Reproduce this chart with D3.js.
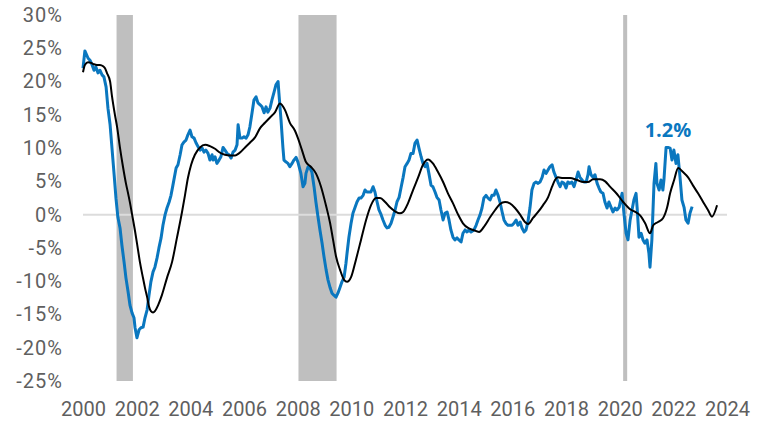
<!DOCTYPE html>
<html><head><meta charset="utf-8">
<script src="https://cdn.jsdelivr.net/npm/d3@7"></script>
<style>body{margin:0;background:#fff}svg{display:block}</style>
</head><body>
<svg id="c" width="765" height="426"></svg>
<script>
const yTicks = [-25,-20,-15,-10,-5,0,5,10,15,20,25,30];
const xTicks = [2000,2002,2004,2006,2008,2010,2012,2014,2016,2018,2020,2022,2024];
const recessionStart = [2001.25, 2008.03, 2020.13];
const recessionEnd   = [2001.86, 2009.45, 2020.28];

const blueYears = [2000.00,2000.07,2000.19,2000.26,2000.34,2000.41,2000.48,2000.56,2000.63,2000.71,2000.78,2000.86,2000.93,2001.01,2001.08,2001.16,2001.23,2001.30,2001.38,2001.45,2001.53,2001.60,2001.68,2001.75,2001.83,2001.90,2001.94,2002.01,2002.09,2002.16,2002.24,2002.31,2002.39,2002.46,2002.53,2002.61,2002.68,2002.76,2002.83,2002.91,2002.98,2003.06,2003.13,2003.21,2003.28,2003.35,2003.47,2003.54,2003.62,2003.69,2003.76,2003.84,2003.91,2003.99,2004.06,2004.14,2004.21,2004.29,2004.36,2004.44,2004.51,2004.58,2004.66,2004.73,2004.81,2004.85,2004.92,2004.99,2005.07,2005.14,2005.22,2005.29,2005.37,2005.44,2005.52,2005.59,2005.67,2005.74,2005.78,2005.85,2005.93,2006.00,2006.08,2006.15,2006.22,2006.30,2006.37,2006.45,2006.52,2006.60,2006.67,2006.75,2006.82,2006.89,2006.97,2007.04,2007.12,2007.19,2007.27,2007.30,2007.38,2007.45,2007.49,2007.57,2007.64,2007.71,2007.79,2007.86,2007.94,2008.01,2008.12,2008.20,2008.27,2008.31,2008.39,2008.46,2008.53,2008.61,2008.68,2008.76,2008.83,2008.91,2008.98,2009.06,2009.13,2009.21,2009.28,2009.35,2009.43,2009.50,2009.58,2009.65,2009.73,2009.80,2009.84,2009.91,2009.99,2010.06,2010.14,2010.21,2010.29,2010.36,2010.44,2010.51,2010.58,2010.66,2010.73,2010.81,2010.88,2010.96,2011.03,2011.11,2011.18,2011.26,2011.33,2011.40,2011.48,2011.55,2011.63,2011.70,2011.78,2011.85,2011.93,2012.00,2012.08,2012.15,2012.22,2012.30,2012.37,2012.45,2012.52,2012.60,2012.67,2012.75,2012.82,2012.89,2012.97,2013.04,2013.12,2013.19,2013.27,2013.34,2013.42,2013.49,2013.57,2013.64,2013.71,2013.79,2013.86,2013.94,2014.01,2014.09,2014.16,2014.24,2014.31,2014.39,2014.46,2014.57,2014.65,2014.72,2014.80,2014.87,2014.94,2015.02,2015.09,2015.17,2015.24,2015.32,2015.39,2015.47,2015.54,2015.62,2015.69,2015.76,2015.84,2015.91,2015.99,2016.06,2016.14,2016.21,2016.29,2016.36,2016.44,2016.51,2016.58,2016.66,2016.73,2016.81,2016.88,2016.96,2017.03,2017.11,2017.18,2017.26,2017.33,2017.40,2017.48,2017.55,2017.63,2017.70,2017.78,2017.85,2017.93,2018.00,2018.07,2018.15,2018.22,2018.30,2018.37,2018.45,2018.52,2018.60,2018.67,2018.75,2018.82,2018.86,2018.93,2019.01,2019.08,2019.16,2019.23,2019.30,2019.38,2019.45,2019.53,2019.60,2019.68,2019.75,2019.83,2019.90,2019.98,2020.09,2020.16,2020.24,2020.31,2020.39,2020.46,2020.53,2020.61,2020.65,2020.72,2020.80,2020.87,2020.94,2021.02,2021.09,2021.13,2021.20,2021.28,2021.35,2021.39,2021.47,2021.54,2021.61,2021.65,2021.73,2021.80,2021.88,2021.95,2022.02,2022.10,2022.17,2022.25,2022.32,2022.40,2022.47,2022.55,2022.62,2022.70];
const blueValues = [22.0,24.6,23.5,23.2,22.5,21.7,22.2,21.3,21.7,21.0,20.7,19.2,16.0,13.5,10.0,6.0,2.4,-0.4,-2.0,-4.6,-7.1,-9.5,-11.6,-13.6,-14.8,-15.5,-17.0,-18.5,-17.3,-17.0,-16.9,-15.5,-14.3,-12.1,-10.1,-8.6,-7.9,-6.5,-5.0,-3.5,-1.6,0.0,1.0,1.9,2.9,4.4,7.0,7.5,9.0,10.5,10.9,11.2,12.0,12.7,11.7,11.5,10.8,10.2,9.7,10.0,9.4,9.7,9.2,8.2,9.0,8.2,8.7,7.7,8.2,8.7,10.1,9.7,9.2,9.0,8.5,9.4,9.7,10.5,13.5,11.5,11.5,11.7,11.5,12.0,13.2,15.3,17.2,17.7,16.8,16.5,16.2,15.3,16.2,15.4,16.0,17.2,18.4,19.5,20.0,18.3,14.2,10.1,8.2,7.9,7.7,7.2,7.7,8.2,8.6,7.9,6.2,4.2,4.7,6.2,7.2,7.0,6.4,4.2,1.9,-0.4,-2.3,-4.3,-6.3,-8.3,-9.8,-11.0,-11.8,-12.1,-12.4,-11.8,-10.9,-10.1,-9.4,-7.3,-5.8,-3.4,-1.3,0.2,1.1,1.9,2.5,2.5,2.9,3.7,3.4,3.4,3.4,4.2,3.4,1.9,0.7,0.0,-0.8,-1.6,-2.0,-1.9,-1.3,-0.4,0.7,1.9,2.6,4.0,5.6,7.2,7.7,8.2,9.2,9.2,10.7,11.2,10.0,8.7,7.7,7.2,7.7,6.2,4.4,4.2,3.4,2.6,2.2,0.7,-0.8,0.2,0.4,-0.8,-2.3,-3.4,-3.8,-3.5,-3.8,-4.1,-2.8,-2.3,-2.6,-2.3,-2.6,-2.3,-1.6,-0.8,0.0,1.0,2.5,2.9,2.5,2.2,2.9,2.9,3.7,2.9,1.9,0.4,-0.8,-1.3,-1.6,-1.6,-1.6,-1.3,-0.8,-1.6,-1.1,-2.0,-2.6,-2.3,-1.1,1.1,3.7,4.7,4.9,4.7,4.9,5.6,6.7,6.2,6.7,7.2,7.5,6.4,5.6,4.9,4.2,4.9,4.7,4.0,4.9,4.7,4.9,4.2,5.2,6.4,5.6,5.2,4.9,4.9,6.0,7.2,6.0,5.6,6.0,4.7,4.0,3.4,3.2,1.9,1.0,1.9,1.1,0.4,1.0,0.7,1.1,3.2,0.2,-2.8,-3.8,-0.8,0.7,2.2,3.2,1.1,-3.4,-2.8,-3.8,-4.3,-3.8,-5.8,-7.9,-3.8,4.7,7.7,4.7,3.7,5.2,3.7,5.2,10.1,10.1,10.0,8.2,9.7,7.7,9.0,5.6,2.2,1.1,-0.8,-1.3,0.2,1.2];

const blackYears = [2000.00,2000.07,2000.19,2000.30,2000.41,2000.52,2000.63,2000.75,2000.82,2000.89,2001.01,2001.08,2001.19,2001.27,2001.38,2001.49,2001.60,2001.68,2001.75,2001.83,2001.94,2002.05,2002.12,2002.24,2002.31,2002.39,2002.46,2002.53,2002.61,2002.68,2002.80,2002.94,2003.13,2003.32,2003.50,2003.69,2003.80,2003.91,2004.03,2004.17,2004.36,2004.55,2004.73,2004.92,2005.11,2005.29,2005.48,2005.67,2005.81,2006.04,2006.22,2006.41,2006.60,2006.78,2006.97,2007.16,2007.34,2007.53,2007.71,2007.90,2008.01,2008.16,2008.31,2008.49,2008.68,2008.87,2009.06,2009.21,2009.32,2009.43,2009.58,2009.73,2009.84,2009.99,2010.17,2010.36,2010.55,2010.73,2010.92,2011.07,2011.26,2011.44,2011.63,2011.81,2011.93,2012.11,2012.30,2012.49,2012.67,2012.86,2013.04,2013.23,2013.42,2013.60,2013.79,2013.98,2014.16,2014.35,2014.54,2014.76,2014.98,2015.17,2015.36,2015.54,2015.73,2015.91,2016.10,2016.29,2016.47,2016.59,2016.77,2016.96,2017.14,2017.33,2017.48,2017.59,2017.70,2017.89,2018.15,2018.41,2018.64,2018.82,2019.01,2019.27,2019.46,2019.64,2019.90,2020.13,2020.39,2020.58,2020.76,2020.95,2021.13,2021.25,2021.43,2021.62,2021.77,2021.88,2022.03,2022.18,2022.36,2022.55,2022.73,2022.92,2023.11,2023.29,2023.44,2023.63];
const blackValues = [21.4,22.5,22.9,22.8,22.6,22.5,22.5,22.3,22.0,21.3,20.0,17.8,15.0,13.2,10.0,7.2,4.7,3.2,1.8,0.0,-2.5,-5.3,-7.1,-9.6,-11.0,-12.4,-13.8,-14.5,-14.7,-14.5,-13.6,-12.1,-9.5,-7.1,-3.5,0.4,2.9,5.5,7.5,9.0,10.1,10.5,10.3,9.9,9.3,9.0,8.9,8.9,9.2,10.1,10.8,11.6,13.0,13.8,14.6,15.4,16.7,15.7,13.8,12.6,11.5,9.7,7.9,7.2,6.2,4.2,1.3,-1.3,-3.8,-6.3,-8.3,-9.8,-10.1,-9.4,-6.8,-3.8,-0.8,1.4,2.5,2.5,1.9,1.1,0.5,0.2,0.4,1.7,3.7,5.6,7.5,8.3,7.7,6.4,4.9,3.2,1.7,0.0,-1.3,-2.0,-2.3,-2.6,-1.6,-0.4,0.7,1.6,1.9,1.7,1.0,0.0,-1.1,-1.4,-0.5,0.4,1.4,2.6,4.2,5.2,5.6,5.5,5.5,5.2,4.9,4.9,5.3,5.3,5.0,4.2,3.1,1.9,0.8,0.4,-0.1,-1.3,-2.8,-1.6,-1.1,-0.5,1.1,3.2,5.2,7.0,6.4,5.6,4.4,3.2,1.9,0.7,-0.3,1.4];

const lastLabel = "1.2%";

const svg = d3.select("#c");
const x = d3.scaleLinear().domain([2000, 2024]).range([83, 727]);
const y = d3.scaleLinear().domain([-25, 30]).range([381, 15]);

// recession bands
svg.append("g").selectAll("rect").data(recessionStart).join("rect")
  .attr("x", (d) => x(d))
  .attr("width", (d, i) => x(recessionEnd[i]) - x(d))
  .attr("y", y(30)).attr("height", y(-25) - y(30))
  .attr("fill", "#bfbfbf");

// zero line
svg.append("line").attr("x1", x(2000)).attr("x2", x(2024))
  .attr("y1", y(0)).attr("y2", y(0))
  .attr("stroke", "#dcdcdc").attr("stroke-width", 2);

// axes
const yAxis = svg.append("g").attr("transform", `translate(${x(2000)},0)`)
  .call(d3.axisLeft(y).tickValues(yTicks).tickSize(0).tickPadding(20).tickFormat(d => d + "%"));
const xAxis = svg.append("g").attr("transform", `translate(0,${y(-25)})`)
  .call(d3.axisBottom(x).tickValues(xTicks).tickSize(0).tickPadding(21).tickFormat(d3.format("d")));
[yAxis, xAxis].forEach(g => {
  g.select(".domain").remove();
  g.selectAll("text").attr("fill", "#5f5f5f")
    .style("font-family", "Roboto, 'Open Sans', sans-serif").style("font-size", "20px");
});
yAxis.selectAll("text").style("letter-spacing", "1px");

// lines
const blue = blueYears.map((d, i) => [d, blueValues[i]]);
const black = blackYears.map((d, i) => [d, blackValues[i]]);
svg.append("path").datum(blue)
  .attr("d", d3.line().x(d => x(d[0])).y(d => y(d[1])))
  .attr("fill", "none").attr("stroke", "#0a77bf").attr("stroke-width", 3)
  .attr("stroke-linejoin", "round");
svg.append("path").datum(black)
  .attr("d", d3.line().curve(d3.curveMonotoneX).x(d => x(d[0])).y(d => y(d[1])))
  .attr("fill", "none").attr("stroke", "#000").attr("stroke-width", 2)
  .attr("stroke-linejoin", "round");

// annotation
svg.append("text").attr("x", x(2021.8)).attr("y", y(11.7))
  .attr("text-anchor", "middle").attr("fill", "#0a77bf")
  .style("font-family", "'Open Sans', sans-serif").style("font-weight", "700").style("font-size", "20px")
  .text(lastLabel);
</script>
</body></html>
